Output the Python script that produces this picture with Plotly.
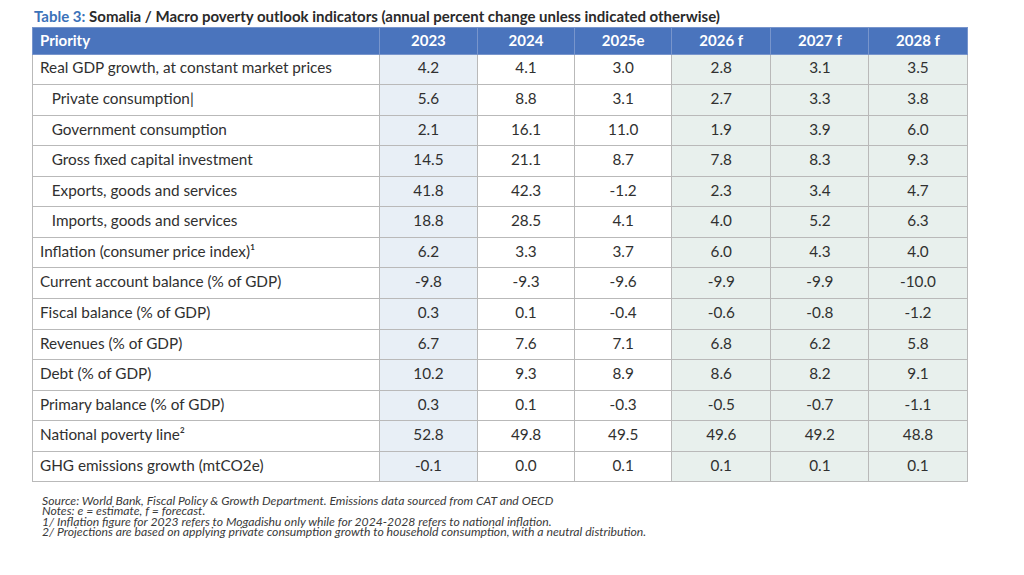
import plotly.graph_objects as go

# ---- data ----
headers = ["Priority", "2023", "2024", "2025e", "2026 f", "2027 f", "2028 f"]
indicators = [
    "Real GDP growth, at constant market prices",
    "\u00a0\u00a0\u00a0Private consumption|",
    "\u00a0\u00a0\u00a0Government consumption",
    "\u00a0\u00a0\u00a0Gross fixed capital investment",
    "\u00a0\u00a0\u00a0Exports, goods and services",
    "\u00a0\u00a0\u00a0Imports, goods and services",
    "Inflation (consumer price index)\u00b9",
    "Current account balance (% of GDP)",
    "Fiscal balance (% of GDP)",
    "Revenues (% of GDP)",
    "Debt (% of GDP)",
    "Primary balance (% of GDP)",
    "National poverty line\u00b2",
    "GHG emissions growth (mtCO2e)",
]
v2023 = ["4.2", "5.6", "2.1", "14.5", "41.8", "18.8", "6.2", "-9.8", "0.3", "6.7", "10.2", "0.3", "52.8", "-0.1"]
v2024 = ["4.1", "8.8", "16.1", "21.1", "42.3", "28.5", "3.3", "-9.3", "0.1", "7.6", "9.3", "0.1", "49.8", "0.0"]
v2025 = ["3.0", "3.1", "11.0", "8.7", "-1.2", "4.1", "3.7", "-9.6", "-0.4", "7.1", "8.9", "-0.3", "49.5", "0.1"]
v2026 = ["2.8", "2.7", "1.9", "7.8", "2.3", "4.0", "6.0", "-9.9", "-0.6", "6.8", "8.6", "-0.5", "49.6", "0.1"]
v2027 = ["3.1", "3.3", "3.9", "8.3", "3.4", "5.2", "4.3", "-9.9", "-0.8", "6.2", "8.2", "-0.7", "49.2", "0.1"]
v2028 = ["3.5", "3.8", "6.0", "9.3", "4.7", "6.3", "4.0", "-10.0", "-1.2", "5.8", "9.1", "-1.1", "48.8", "0.1"]

title_prefix = "Table 3:"
title_rest = " Somalia / Macro poverty outlook indicators (annual percent change unless indicated otherwise)"
notes = [
    "Source: World Bank, Fiscal Policy & Growth Department. Emissions data sourced from CAT and OECD",
    "Notes: e = estimate, f = forecast.",
    "1/ Inflation figure for 2023 refers to Mogadishu only while for 2024-2028 refers to national inflation.",
    "2/ Projections are based on applying private consumption growth to household consumption, with a neutral distribution.",
]

# ---- styles ----
W, H = 1024, 575
OFF = 8  # page body margin
n = len(indicators)
white = "#ffffff"
blue_col = "#e8eff6"
green_col = "#e8f0ed"
col_fills = [white, blue_col, white, white, green_col, green_col, green_col]

fig = go.Figure(go.Table(
    domain=dict(x=[(32 - OFF) / W, (967 - OFF) / W], y=[1 - (490 - OFF) / H, 1 - (27 - OFF) / H]),
    columnwidth=[347, 98, 97, 97, 99, 98, 98],
    header=dict(
        values=headers,
        fill_color="#4a74bd",
        line=dict(color="#7895cc", width=1),
        font=dict(family="Lato", size=15, color="white", weight="bold"),
        align=["left"] + ["center"] * 6,
        height=27,
    ),
    cells=dict(
        values=[indicators, v2023, v2024, v2025, v2026, v2027, v2028],
        fill_color=[[c] * n for c in col_fills],
        line=dict(color="#b9b9b9", width=1),
        font=dict(family="Lato", size=15.3, color="#303030"),
        align=["left"] + ["center"] * 6,
        height=30.57,
    ),
))

fig.add_annotation(
    x=(32 - OFF) / W, y=1 - (16 - OFF) / H, xref="paper", yref="paper", xanchor="left", yanchor="middle",
    text="<b><span style='color:#3b72b9'>%s</span>%s</b>" % (title_prefix, title_rest),
    showarrow=False, font=dict(family="Lato", size=15, color="#2a2a2a"),
)
for i, line in enumerate(notes):
    fig.add_annotation(
        x=(40 - OFF) / W, y=1 - (500 - OFF + i * 10.5) / H, xref="paper", yref="paper",
        xanchor="left", yanchor="middle", text="<i>%s</i>" % line, showarrow=False,
        font=dict(family="Lato", size=12.2, color="#3a3a3a"),
    )

fig.update_layout(
    width=W, height=H, margin=dict(l=0, r=0, t=0, b=0),
    paper_bgcolor="white", plot_bgcolor="white",
)
fig.write_html("out.html")
